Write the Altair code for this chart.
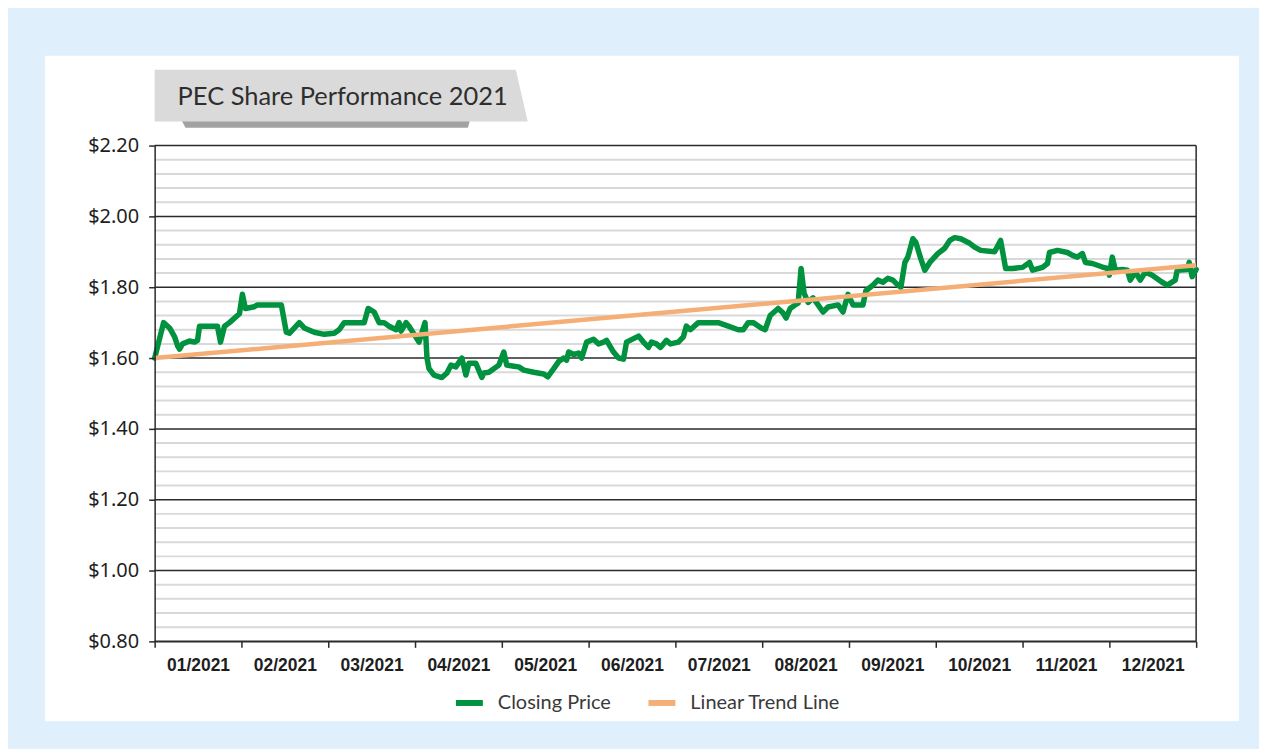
import json
import pandas as pd
import altair as alt

title_text = "PEC Share Performance 2021"
month_labels = ["01/2021", "02/2021", "03/2021", "04/2021", "05/2021", "06/2021",
                "07/2021", "08/2021", "09/2021", "10/2021", "11/2021", "12/2021"]
month_ticks = list(range(13))
price_major = [0.80, 1.00, 1.20, 1.40, 1.60, 1.80, 2.00, 2.20]
price_minor = [0.84, 0.88, 0.92, 0.96, 1.04, 1.08, 1.12, 1.16, 1.24, 1.28, 1.32, 1.36,
               1.44, 1.48, 1.52, 1.56, 1.64, 1.68, 1.72, 1.76, 1.84, 1.88, 1.92, 1.96,
               2.04, 2.08, 2.12, 2.16]
series_names = ["Closing Price", "Linear Trend Line"]
series_colors = ["#00923f", "#f4ae76"]

# position in months from 1 Jan 2021 (0 = start of January, 12 = end of December)
month_pos = [
    0.000, 0.103, 0.172, 0.230, 0.264, 0.287, 0.322, 0.402, 0.460, 0.494, 0.517, 0.632, 0.724, 0.759, 0.805, 0.862, 0.977,
    1.011, 1.046, 1.149, 1.184, 1.460, 1.517, 1.552, 1.667, 1.724, 1.839, 1.954,
    2.069, 2.126, 2.184, 2.414, 2.460, 2.529, 2.586, 2.644, 2.701, 2.782, 2.816, 2.839, 2.897, 2.931,
    3.046, 3.115, 3.138, 3.161, 3.218, 3.310, 3.368, 3.414, 3.471, 3.540, 3.586, 3.621, 3.701, 3.770, 3.793, 3.851, 3.966,
    4.023, 4.057, 4.138, 4.195, 4.253, 4.368, 4.483, 4.529, 4.598, 4.655, 4.713, 4.747, 4.770, 4.828, 4.885, 4.920, 4.977,
    5.057, 5.115, 5.172, 5.207, 5.287, 5.345, 5.402, 5.437, 5.575, 5.632, 5.690, 5.724, 5.782, 5.828, 5.897, 5.943,
    6.034, 6.092, 6.126, 6.172, 6.264, 6.494, 6.609, 6.724, 6.782, 6.839, 6.897, 6.989,
    7.034, 7.092, 7.184, 7.241, 7.276, 7.322, 7.379, 7.414, 7.448, 7.483, 7.529, 7.586, 7.644, 7.701, 7.759, 7.874, 7.931, 7.989,
    8.046, 8.161, 8.195, 8.276, 8.333, 8.391, 8.448, 8.506, 8.563, 8.598, 8.644, 8.678, 8.736, 8.770, 8.828, 8.874, 8.931,
    9.023, 9.103, 9.161, 9.218, 9.287, 9.391, 9.448, 9.517, 9.678, 9.747, 9.805, 9.885, 10.000,
    10.080, 10.115, 10.230, 10.287, 10.310, 10.402, 10.517, 10.575, 10.632, 10.690, 10.724, 10.805, 10.920, 10.977, 11.000,
    11.034, 11.069, 11.149, 11.207, 11.241, 11.299, 11.356, 11.414, 11.494, 11.609, 11.667, 11.759, 11.782, 11.897, 11.920, 11.954, 12.000,
]
close_price = [
    1.60, 1.70, 1.685, 1.66, 1.635, 1.625, 1.64, 1.648, 1.645, 1.65, 1.69, 1.69, 1.69, 1.645, 1.69, 1.70, 1.725,
    1.78, 1.74, 1.745, 1.75, 1.75, 1.673, 1.67, 1.70, 1.685, 1.673, 1.667,
    1.67, 1.68, 1.70, 1.70, 1.74, 1.73, 1.70, 1.70, 1.69, 1.68, 1.70, 1.676, 1.70, 1.69,
    1.645, 1.70, 1.60, 1.57, 1.552, 1.545, 1.558, 1.58, 1.575, 1.60, 1.552, 1.585, 1.585, 1.545, 1.558, 1.56, 1.58,
    1.617, 1.58, 1.577, 1.575, 1.566, 1.56, 1.555, 1.547, 1.57, 1.59, 1.60, 1.594, 1.617, 1.61, 1.614, 1.60, 1.645,
    1.653, 1.64, 1.645, 1.65, 1.617, 1.60, 1.597, 1.645, 1.662, 1.645, 1.63, 1.645, 1.64, 1.63, 1.65, 1.64,
    1.645, 1.66, 1.69, 1.68, 1.70, 1.70, 1.69, 1.68, 1.68, 1.70, 1.70, 1.685,
    1.68, 1.72, 1.74, 1.727, 1.713, 1.74, 1.75, 1.755, 1.853, 1.783, 1.757, 1.77, 1.75, 1.73, 1.744, 1.75, 1.73, 1.78,
    1.75, 1.75, 1.79, 1.806, 1.82, 1.814, 1.825, 1.82, 1.806, 1.80, 1.87, 1.885, 1.937, 1.927, 1.88, 1.848, 1.87,
    1.895, 1.91, 1.932, 1.94, 1.937, 1.924, 1.913, 1.904, 1.90, 1.932, 1.853, 1.853, 1.856,
    1.87, 1.848, 1.856, 1.867, 1.898, 1.904, 1.898, 1.89, 1.885, 1.895, 1.87, 1.867, 1.857, 1.853, 1.834,
    1.885, 1.848, 1.85, 1.848, 1.82, 1.843, 1.82, 1.843, 1.834, 1.814, 1.806, 1.82, 1.848, 1.85, 1.87, 1.83, 1.85,
]
trend_pos = [0, 12]
trend_price = [1.60, 1.862]

close_df = pd.DataFrame({"pos": month_pos, "price": close_price, "series": series_names[0]})
trend_df = pd.DataFrame({"pos": trend_pos, "price": trend_price, "series": series_names[1]})
major_df = pd.DataFrame({"price": price_major})
minor_df = pd.DataFrame({"price": price_minor})
title_df = pd.DataFrame({"t": [title_text]})

DARK = "#2b2b2b"
x_scale = alt.Scale(domain=[0, 12], nice=False, zero=False)
y_scale = alt.Scale(domain=[0.8, 2.2], nice=False, zero=False)

label_expr = json.dumps(month_labels) + "[datum.value] || ''"

x_axis = alt.Axis(values=month_ticks, labelExpr=label_expr, labelOffset=43.5,
                  labelFont="Liberation Sans", labelFontWeight="bold", labelFontSize=17.5,
                  labelColor="#1e1e1e", labelPadding=9, tickSize=6, tickColor=DARK,
                  tickWidth=1.5, domainColor=DARK, domainWidth=1.5, grid=False,
                  title=None, zindex=1, labelFlush=False, labelOverlap=False)
y_axis = alt.Axis(values=price_major, format="$.2f", labelFont="Noto Sans",
                  labelFontSize=20, labelColor="#1e1e1e", labelPadding=10, tickSize=6,
                  tickColor=DARK, tickWidth=1.5, domainColor=DARK, domainWidth=1.5,
                  grid=False, title=None, zindex=1)

color_scale = alt.Scale(domain=series_names, range=series_colors)
legend = alt.Legend(orient="none", legendX=299, legendY=542, direction="horizontal",
                    symbolType="stroke", symbolSize=729, symbolStrokeWidth=6,
                    labelFont="Lato", labelFontSize=20, labelLimit=400,
                    labelColor="#3a3a3a", columnPadding=25, labelOffset=12,
                    title=None, padding=0, zindex=1)

panel = alt.Chart(title_df).mark_rect(fill="white").encode(
    x=alt.value(-110), x2=alt.value(1087), y=alt.value(-90), y2=alt.value(577))

shadow = alt.Chart(title_df).mark_point(
    shape="M-1,-0.025L1,-0.025L0.986,0.025L-0.972,0.025Z", size=83521,
    filled=True, fill="#a2a2a2", strokeWidth=0, opacity=1).encode(
    x=alt.value(171.5), y=alt.value(-21.5))

box = alt.Chart(title_df).mark_point(
    shape="M-1,-0.139L0.936,-0.139L1,0.139L-1,0.139Z", size=139876,
    filled=True, fill="#dadada", strokeWidth=0, opacity=1).encode(
    x=alt.value(187), y=alt.value(-50))

title = alt.Chart(title_df).mark_text(
    align="left", baseline="middle", font="Lato", fontSize=25.5,
    color="#2e2e2e").encode(text="t:N", x=alt.value(23), y=alt.value(-49))

minor_rules = alt.Chart(minor_df).mark_rule(color="#d9d9d9", strokeWidth=2).encode(
    y=alt.Y("price:Q", scale=y_scale))
major_rules = alt.Chart(major_df).mark_rule(color=DARK, strokeWidth=1.5).encode(
    y=alt.Y("price:Q", scale=y_scale))
right_border = alt.Chart(title_df).mark_rule(color=DARK, strokeWidth=1.5).encode(
    x=alt.datum(12), y=alt.datum(0.8), y2=alt.datum(2.2))

close_line = alt.Chart(close_df).mark_line(
    strokeWidth=5.5, strokeJoin="round", strokeCap="round").encode(
    x=alt.X("pos:Q", scale=x_scale, axis=x_axis),
    y=alt.Y("price:Q", scale=y_scale, axis=y_axis),
    color=alt.Color("series:N", scale=color_scale, legend=legend))

trend_line = alt.Chart(trend_df).mark_line(strokeWidth=4.5).encode(
    x=alt.X("pos:Q", scale=x_scale),
    y=alt.Y("price:Q", scale=y_scale),
    color=alt.Color("series:N", scale=color_scale, legend=legend))

chart = alt.layer(panel, shadow, box, title, minor_rules, major_rules, right_border,
                  close_line, trend_line).properties(
    width=1044, height=497,
    autosize=alt.AutoSizeParams(type="none"),
    padding={"left": 147, "top": 137, "right": 63, "bottom": 107},
    background="#dfeffb",
).configure_view(stroke=None)

chart.save("out.html", embed_options={"renderer": "svg", "actions": False})
